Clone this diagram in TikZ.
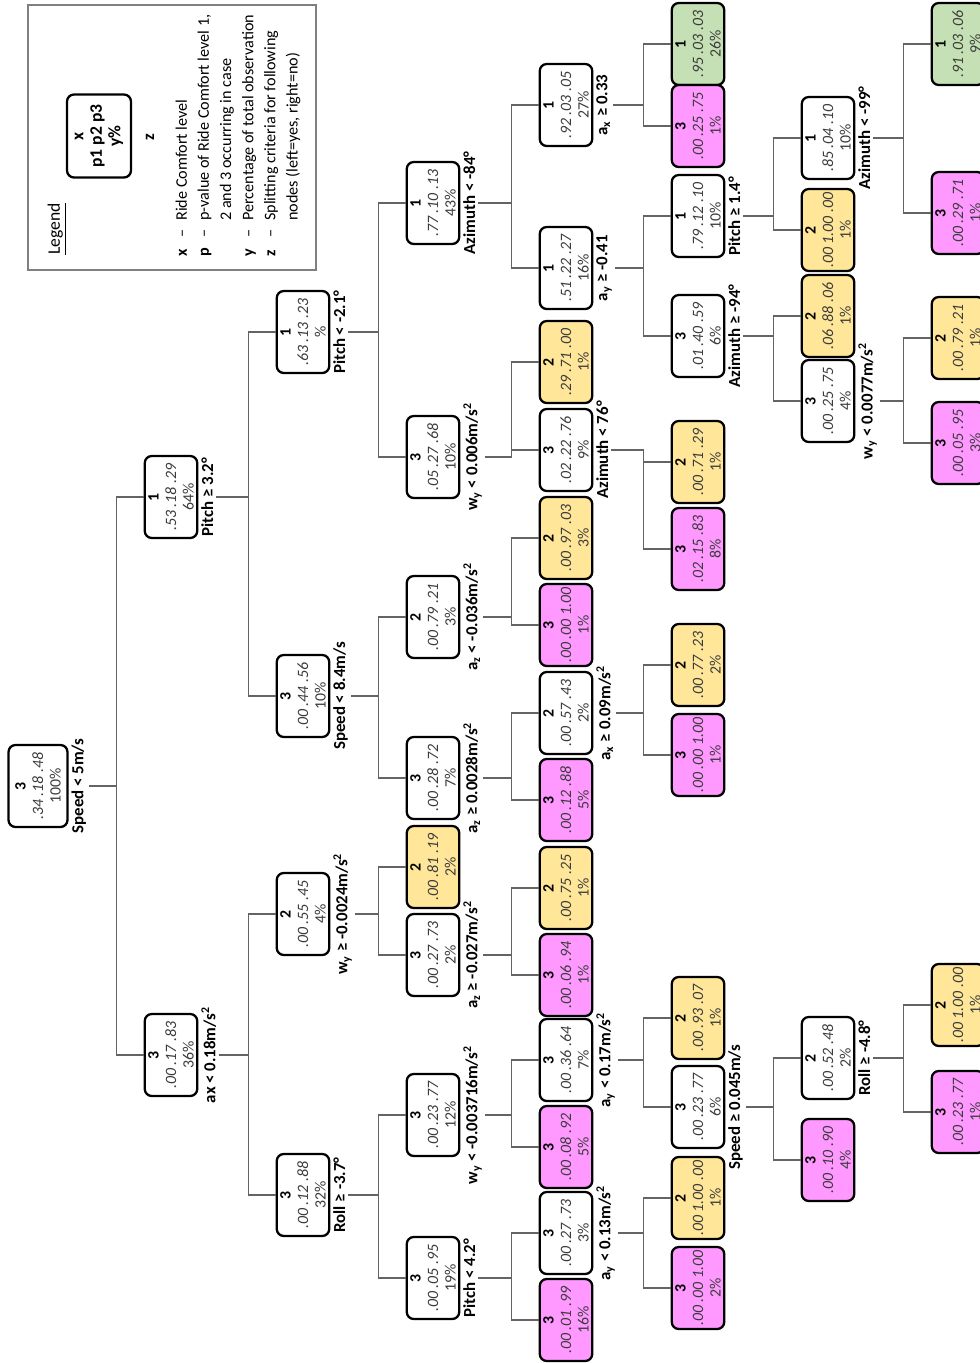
\documentclass[tikz,border=0pt]{standalone}
\usepackage{fontspec}
\setmainfont{Carlito}
\usepackage{xcolor}
\usepackage{tikz}
\usetikzlibrary{positioning}

\definecolor{boxyellow}{RGB}{255,230,153}
\definecolor{boxpink}{RGB}{255,153,255}
\definecolor{boxgreen}{RGB}{197,224,180}
\definecolor{linkgray}{RGB}{100,100,100}
\definecolor{valgray}{RGB}{60,60,60}

% class / p-values / share of observations
\newcommand{\nodetext}[3]{\textbf{#1}\\{\color{valgray}\itshape #2}\\{\color{valgray}#3}}

\begin{document}
\begin{tikzpicture}[
		x=0.02cm,y=-0.02cm,
		tree node/.style={draw=black,line width=1.3pt,rounded corners=4pt,rotate=90,
			minimum width=1.64cm,minimum height=1.05cm,inner sep=0pt,align=center,
			font=\fontsize{9}{10}\selectfont},
		split/.style={rotate=90,anchor=north,inner sep=1.5pt,
			font=\fontsize{9.6}{10}\selectfont\bfseries},
		link/.style={draw=linkgray,line width=0.8pt},
		legend text/.style={rotate=90,font=\fontsize{9.2}{12.6}\selectfont,align=left,inner sep=0pt}
	]
	\useasboundingbox (0,0) rectangle (980,1363);
	\clip (0,0) rectangle (980,1363);

	% Legend block in the upper left corner.
	\draw[draw=gray,line width=0.6pt] (28,5) rectangle (316,270);
	\node[legend text,font=\fontsize{10}{12}\selectfont] (legtitle) at (57,229) {\underline{Legend}};
	\node[tree node,minimum width=1.66cm,minimum height=1.28cm,
		font=\fontsize{10}{10.5}\selectfont\bfseries] (legbox) at (99,136) {x\\p1 p2 p3\\y\%};
	\node[split,anchor=center] (legz) at (150,137) {z};
	\node[legend text,anchor=north west] (legkeys) at (171,257) {%
		\begin{tabular}{@{}l@{\hspace{6pt}}l@{\hspace{5pt}}l@{}}
			\textbf{x} & – & Ride Comfort level\\
			\textbf{p} & – & p-value of Ride Comfort level 1,\\
			& & 2 and 3 occurring in case\\
			\textbf{y} & – & Percentage of total observation\\
			\textbf{z} & – & Splitting criteria for following\\
			& & nodes (left=yes, right=no)
		\end{tabular}};

	% Root node is a little wider than the others.
	\node[tree node,minimum height=1.18cm] (n0) at (38,786) {\nodetext{3}{.34 .18 .48}{100\%}};

	% All other nodes: name / x / y / fill / class / p-values / share.
	\foreach \id/\x/\y/\col/\k/\p/\s in {
		n1/171/497/white/1/.53 .18 .29/64\%,
		n2/171/1055/white/3/.00 .17 .83/36\%,
		n3/303/332/white/1/.63 .13 .23/\%,
		n4/303/696/white/3/.00 .44 .56/10\%,
		n5/303/914/white/2/.00 .55 .45/4\%,
		n6/303/1195/white/3/.00 .12 .88/32\%,
		n7/433/203/white/1/.77 .10 .13/43\%,
		n8/433/457/white/3/.05 .27 .68/10\%,
		n9/433/617/white/2/.00 .79 .21/3\%,
		n10/433/778/white/3/.00 .28 .72/7\%,
		n11/433/867/boxyellow/2/.00 .81 .19/2\%,
		n12/433/955/white/3/.00 .27 .73/2\%,
		n13/433/1115/white/3/.00 .23 .77/12\%,
		n14/433/1278/white/3/.00 .05 .95/19\%,
		n15/566/105/white/1/.92 .03 .05/27\%,
		n16/566/268/white/1/.51 .22 .27/16\%,
		n17/566/362/boxyellow/2/.29 .71 .00/1\%,
		n18/566/450/white/3/.02 .22 .76/9\%,
		n19/566/538/boxyellow/2/.00 .97 .03/3\%,
		n20/566/625/boxpink/3/.00 .00 1.00/1\%,
		n21/566/713/white/2/.00 .57 .43/2\%,
		n22/566/800/boxpink/3/.00 .12 .88/5\%,
		n23/566/888/boxyellow/2/.00 .75 .25/1\%,
		n24/566/975/boxpink/3/.00 .06 .94/1\%,
		n25/566/1060/white/3/.00 .36 .64/7\%,
		n26/566/1147/boxpink/3/.00 .08 .92/5\%,
		n27/566/1233/white/3/.00 .27 .73/3\%,
		n28/566/1320/boxpink/3/.00 .01 .99/16\%,
		n29/698/44/boxgreen/1/.95 .03 .03/26\%,
		n30/698/126/boxpink/3/.00 .25 .75/1\%,
		n31/698/216/white/1/.79 .12 .10/10\%,
		n32/698/336/white/3/.01 .40 .59/6\%,
		n33/698/462/boxyellow/2/.00 .71 .29/1\%,
		n34/698/549/boxpink/3/.02 .15 .83/8\%,
		n35/698/665/boxyellow/2/.00 .77 .23/2\%,
		n36/698/755/boxpink/3/.00 .00 1.00/1\%,
		n37/698/1018/boxyellow/2/.00 .93 .07/1\%,
		n38/698/1107/white/3/.00 .23 .77/6\%,
		n39/698/1198/boxyellow/2/.00 1.00 .00/1\%,
		n40/698/1288/boxpink/3/.00 .00 1.00/2\%,
		n41/828/138/white/1/.85 .04 .10/10\%,
		n42/828/230/boxyellow/2/.00 1.00 .00/1\%,
		n43/828/316/boxyellow/2/.06 .88 .06/1\%,
		n44/828/401/white/3/.00 .25 .75/4\%,
		n45/828/1058/white/2/.00 .52 .48/2\%,
		n46/828/1160/boxpink/3/.00 .10 .90/4\%,
		n47/958/44/boxgreen/1/.91 .03 .06/9\%,
		n48/958/213/boxpink/3/.00 .29 .71/1\%,
		n49/958/338/boxyellow/2/.00 .79 .21/1\%,
		n50/958/443/boxpink/3/.00 .05 .95/3\%,
		n51/958/1005/boxyellow/2/.00 1.00 .00/1\%,
		n52/958/1112/boxpink/3/.00 .23 .77/1\%}
		\node[tree node,fill=\col] (\id) at (\x,\y) {\nodetext{\k}{\p}{\s}};

	% Splitting criteria, written beside each inner node.
	\node[split] (s0) at (n0.south) {Speed < 5m/s};
	\node[split] (s1) at (n1.south) {Pitch ≥ 3.2°};
	\node[split] (s2) at (n2.south) {ax < 0.18m/s\textsuperscript{2}};
	\node[split] (s3) at (n3.south) {Pitch < -2.1°};
	\node[split] (s4) at (n4.south) {Speed < 8.4m/s};
	\node[split] (s5) at (n5.south) {w\textsubscript{y} ≥ -0.0024m/s\textsuperscript{2}};
	\node[split] (s6) at (n6.south) {Roll ≥ -3.7°};
	\node[split] (s7) at (n7.south) {Azimuth < -84°};
	\node[split] (s8) at (n8.south) {w\textsubscript{y} < 0.006m/s\textsuperscript{2}};
	\node[split] (s9) at (n9.south) {a\textsubscript{z} < -0.036m/s\textsuperscript{2}};
	\node[split] (s10) at (n10.south) {a\textsubscript{z} ≥ 0.0028m/s\textsuperscript{2}};
	\node[split] (s12) at (n12.south) {a\textsubscript{z} ≥ -0.027m/s\textsuperscript{2}};
	\node[split] (s13) at (n13.south) {w\textsubscript{y} < -0.003716m/s\textsuperscript{2}};
	\node[split] (s14) at (n14.south) {Pitch < 4.2°};
	\node[split] (s15) at (n15.south) {a\textsubscript{x} ≥ 0.33};
	\node[split] (s16) at (n16.south) {a\textsubscript{y} ≥ -0.41};
	\node[split] (s18) at (n18.south) {Azimuth < 76°};
	\node[split] (s21) at (n21.south) {a\textsubscript{x} ≥ 0.09m/s\textsuperscript{2}};
	\node[split] (s25) at (n25.south) {a\textsubscript{y} < 0.17m/s\textsuperscript{2}};
	\node[split] (s27) at (n27.south) {a\textsubscript{y} < 0.13m/s\textsuperscript{2}};
	\node[split] (s31) at (n31.south) {Pitch ≥ 1.4°};
	\node[split] (s32) at (n32.south) {Azimuth ≥ -94°};
	\node[split] (s38) at (n38.south) {Speed ≥ 0.045m/s};
	\node[split] (s41) at (n41.south) {Azimuth < -99°};
	\node[split] (s44) at (n44.south) {w\textsubscript{y} < 0.0077m/s\textsuperscript{2}};
	\node[split] (s45) at (n45.south) {Roll ≥ -4.8°};

	% Elbow connectors: split label / yes child / no child.
	\foreach \sp/\yc/\nc in {s0/n2/n1,s1/n4/n3,s2/n6/n5,s3/n8/n7,s4/n10/n9,
		s5/n12/n11,s6/n14/n13,s7/n16/n15,s8/n18/n17,s9/n20/n19,s10/n22/n21,
		s12/n24/n23,s13/n26/n25,s14/n28/n27,s15/n30/n29,s16/n32/n31,
		s18/n34/n33,s21/n36/n35,s25/n38/n37,s27/n40/n39,s31/n42/n41,
		s32/n44/n43,s38/n46/n45,s41/n48/n47,s44/n50/n49,s45/n52/n51}{
		\draw[link] (\sp.south) -| ([xshift=-5.4mm]\yc.north) -- (\yc.north);
		\draw[link] (\sp.south) -| ([xshift=-5.4mm]\nc.north) -- (\nc.north);
	}
\end{tikzpicture}
\end{document}
